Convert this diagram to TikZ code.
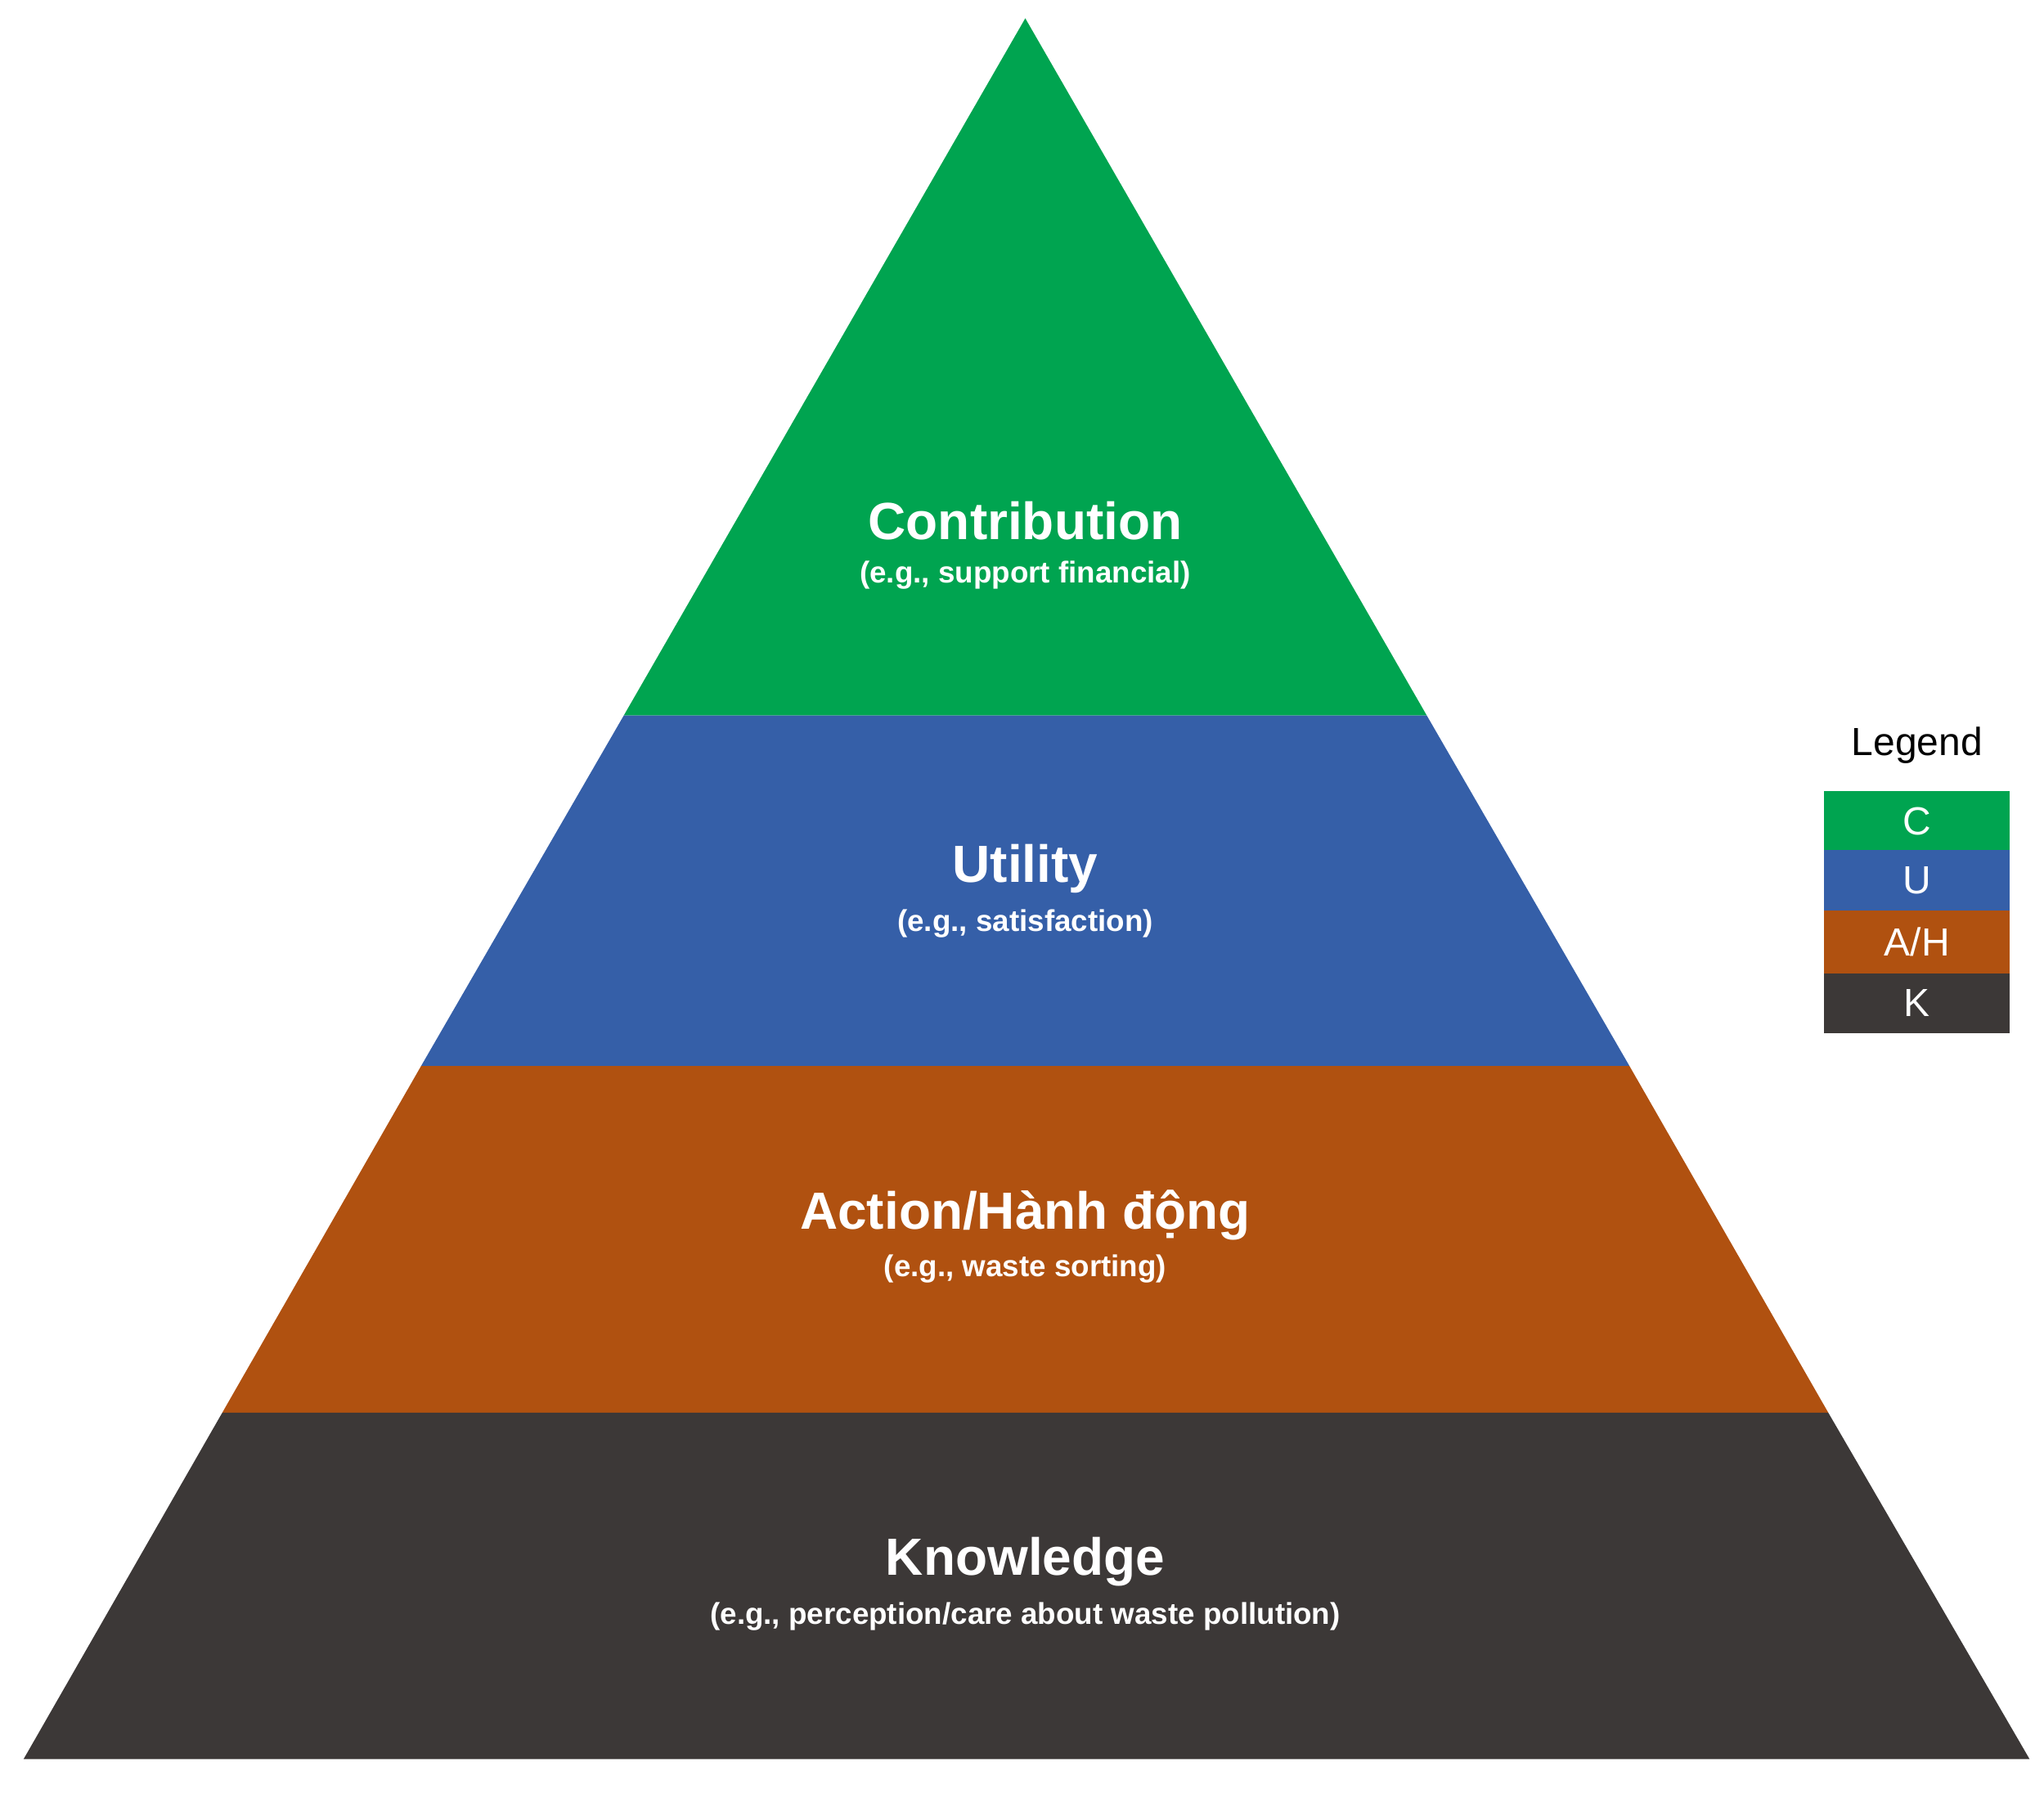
\documentclass[tikz,border=0pt]{standalone}
\usepackage{fontspec}
\setmainfont{Liberation Sans}
\definecolor{cG}{RGB}{0,164,80}
\definecolor{cU}{RGB}{53,95,168}
\definecolor{cA}{RGB}{176,81,16}
\definecolor{cK}{RGB}{60,56,55}
\begin{document}
\begin{tikzpicture}[x=1pt,y=-1pt,
  ttl/.style={text=white,font=\fontsize{40}{44}\selectfont\bfseries},
  sub/.style={text=white,font=\fontsize{23}{26}\selectfont\bfseries},
  leg/.style={minimum width=142pt,minimum height=46pt,inner sep=0pt,text=white,font=\fontsize{30}{32}\selectfont,draw=none}]
\useasboundingbox (0,0) rectangle (1563,1385);
\fill[cG] (784,14) -- (1091,547) -- (477,547) -- cycle;
\fill[cU] (477,547) -- (1091,547) -- (1246,815) -- (322,815) -- cycle;
\fill[cA] (322,815) -- (1246,815) -- (1398,1080) -- (170,1080) -- cycle;
\fill[cK] (170,1080) -- (1398,1080) -- (1552,1345) -- (18,1345) -- cycle;
\node[ttl] (c) at (784,398) {Contribution};
\node[sub] (cs) at (784,440) {(e.g., support financial)};
\node[ttl] (u) at (784,664) {Utility};
\node[sub] (us) at (784,706) {(e.g., satisfaction)};
\node[ttl] (a) at (784,929) {Action/Hành động};
\node[sub] (as) at (784,970) {(e.g., waste sorting)};
\node[ttl] (k) at (784,1194) {Knowledge};
\node[sub] (ks) at (784,1236) {(e.g., perception/care about waste pollution)};
\node[font=\fontsize{30}{32}\selectfont] (lg) at (1466,570) {Legend};
\node[leg,fill=cG] (l1) at (1466,628) {C};
\node[leg,fill=cU] (l2) at (1466,673) {U};
\node[leg,fill=cA,minimum height=48pt] (l3) at (1466,720) {A/H};
\node[leg,fill=cK] (l4) at (1466,767) {K};
\end{tikzpicture}
\end{document}
